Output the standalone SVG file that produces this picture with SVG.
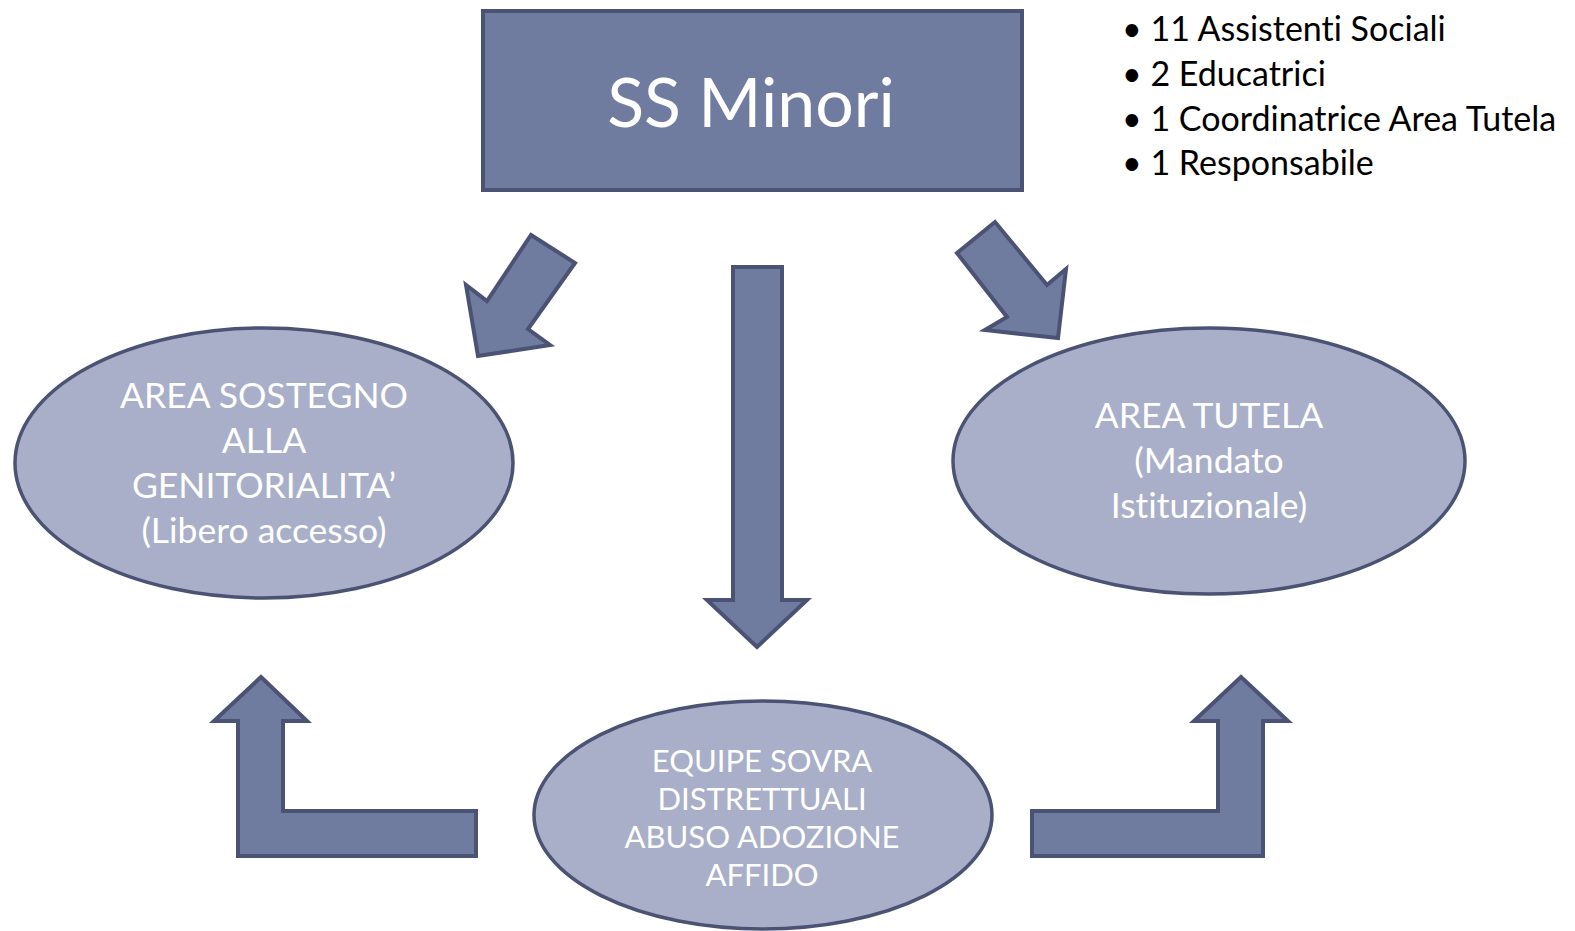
<svg xmlns="http://www.w3.org/2000/svg" width="1575" height="931" viewBox="0 0 1575 931">
<style>
.shape{fill:#707ba0;stroke:#4b5375;stroke-width:4;stroke-linejoin:miter}
.ell{fill:#a9afc8;stroke:#4b5375;stroke-width:3.5}
.t{font-family:Lato,"Open Sans",sans-serif;fill:#ffffff;text-anchor:middle;font-variant-ligatures:none}
.b{font-family:Lato,"Open Sans",sans-serif;fill:#000000;font-size:34px;font-variant-ligatures:none}
</style>
<rect width="1575" height="931" fill="#ffffff"/>
<g id="connectors">
<polygon class="shape" points="531,235 575,263 528,329 550,345 478,356 466,285 487,301"/>
<polygon class="shape" points="957,253 995,222 1047,285 1066,269 1058,338 985,330 1007,317"/>
<polygon class="shape" points="733,267 782,267 782,600 807,600 757,647 707,600 733,600"/>
<polygon class="shape" points="261,677 307,721 283,721 283,811 476,811 476,856 238,856 238,721 214,721"/>
<polygon class="shape" points="1241,677 1288,721 1263,721 1263,856 1032,856 1032,811 1218,811 1218,721 1194,721"/>
</g>
<g id="ss-minori">
<rect class="shape" x="483" y="11" width="539" height="179"/>
<text class="t" x="751" y="127" font-size="68">SS Minori</text>
</g>
<g id="staff-list">
<text class="b" x="1122" y="41">• 11 Assistenti Sociali</text>
<text class="b" x="1122" y="86">• 2 Educatrici</text>
<text class="b" x="1122" y="131">• 1 Coordinatrice Area Tutela</text>
<text class="b" x="1122" y="175">• 1 Responsabile</text>
</g>
<g id="area-sostegno">
<ellipse class="ell" cx="264" cy="463" rx="249" ry="135"/>
<text class="t" font-size="35.5"><tspan x="264" y="408">AREA SOSTEGNO</tspan><tspan x="264" y="453">ALLA</tspan><tspan x="264" y="498">GENITORIALITA’</tspan><tspan x="264" y="543">(Libero accesso)</tspan></text>
</g>
<g id="area-tutela">
<ellipse class="ell" cx="1209" cy="461" rx="256" ry="133"/>
<text class="t" font-size="35.5"><tspan x="1209" y="428">AREA TUTELA</tspan><tspan x="1209" y="473">(Mandato</tspan><tspan x="1209" y="518">Istituzionale)</tspan></text>
</g>
<g id="equipe">
<ellipse class="ell" cx="763" cy="815" rx="229" ry="114"/>
<text class="t" font-size="31"><tspan x="762" y="772">EQUIPE SOVRA</tspan><tspan x="762" y="810">DISTRETTUALI</tspan><tspan x="762" y="848">ABUSO ADOZIONE</tspan><tspan x="762" y="886">AFFIDO</tspan></text>
</g>
</svg>
